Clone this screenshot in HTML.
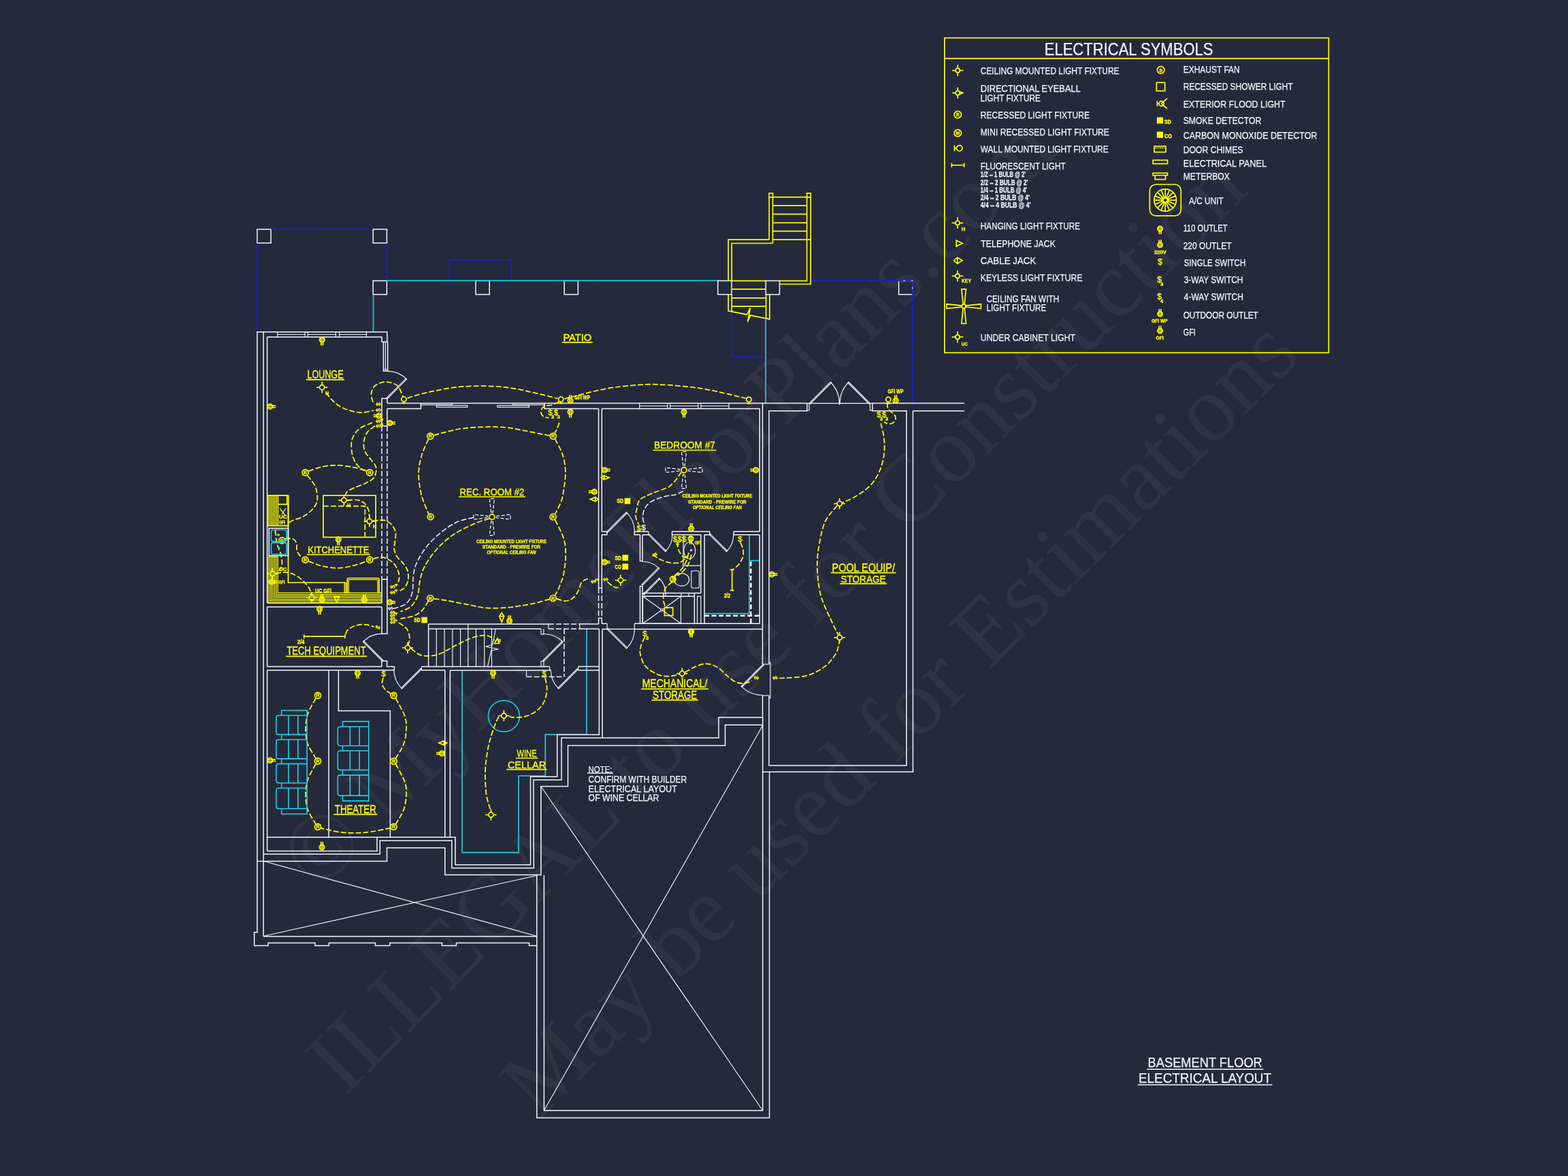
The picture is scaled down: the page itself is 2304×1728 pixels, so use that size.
<!DOCTYPE html>
<html lang="en"><head><meta charset="utf-8"><title>Basement Floor Electrical Layout</title>
<style>
html,body{margin:0;padding:0;background:#25293c;}
body{width:2304px;height:1728px;overflow:hidden;}
svg{display:block;}
text{font-family:"Liberation Sans",sans-serif;}
.w{stroke:#f4f4fc;stroke-width:1.5;fill:none;}
.wt{stroke:#f4f4fc;stroke-width:1.15;fill:none;}
.y{stroke:#ff0;stroke-width:1.7;fill:none;}
.yt{stroke:#ff0;stroke-width:1.25;fill:none;}
.yd{stroke:#ff0;stroke-width:1.75;fill:none;stroke-dasharray:8 3;}
.wd{stroke:#f4f4fc;stroke-width:1.5;fill:none;stroke-dasharray:8 3;}
.wd2{stroke:#f4f4fc;stroke-width:1.25;fill:none;stroke-dasharray:5 2.5;}
.c{stroke:#19d3e3;stroke-width:1.6;fill:none;}
.b{stroke:#1e1ed2;stroke-width:2.1;fill:none;stroke-dasharray:9.5 2;}
.ty{fill:#ff0;stroke:#ff0;stroke-width:0.35;}
.tw{fill:#f4f4fc;stroke:#f4f4fc;stroke-width:0.25;}
.wm{fill:#fff;fill-opacity:0.047;font-family:"Liberation Serif",serif;}
</style></head><body>
<svg width="2304" height="1728" viewBox="0 0 2304 1728">
<rect width="2304" height="1728" fill="#25293c"/>
<filter id="soft" filterUnits="userSpaceOnUse" x="0" y="0" width="2304" height="1728" color-interpolation-filters="sRGB"><feGaussianBlur stdDeviation="0.28"/></filter>
<g filter="url(#soft)">
<g id="wm">
<text class="wm" font-size="138" transform="translate(468 1313) rotate(-45)">© MyHomeFloorPlans.com</text>
<text class="wm" font-size="138" transform="translate(507 1612) rotate(-45)">ILLEGAL to use for Construction</text>
<text class="wm" font-size="138" transform="translate(792 1647) rotate(-45)">May be used for Estimations</text>
</g>
<text class="tw" x="1686.6" y="1568.4" font-size="20.2" textLength="168.2" lengthAdjust="spacingAndGlyphs">BASEMENT FLOOR</text><path class="w" d="M1685.1 1571.3L1856.3 1571.3"/>
<text class="tw" x="1673" y="1591.1" font-size="20" textLength="195" lengthAdjust="spacingAndGlyphs">ELECTRICAL LAYOUT</text><path class="w" d="M1671.5 1593.9L1869.5 1593.9"/>
<text class="tw" x="864.6" y="1134.6" font-size="13.4" textLength="34.8" lengthAdjust="spacingAndGlyphs">NOTE:</text><path class="w" d="M863.1 1136L900.9 1136"/>
<text class="tw" x="864.6" y="1149.9" font-size="14" textLength="144.6" lengthAdjust="spacingAndGlyphs">CONFIRM WITH BUILDER</text>
<text class="tw" x="864.6" y="1163.5" font-size="14" textLength="130.3" lengthAdjust="spacingAndGlyphs">ELECTRICAL LAYOUT</text>
<text class="tw" x="864.6" y="1177.4" font-size="14" textLength="103.8" lengthAdjust="spacingAndGlyphs">OF WINE CELLAR</text>
<g id="posts">
<rect class="w" x="377.9" y="336.9" width="20.2" height="20.2"/>
<rect class="w" x="548.2" y="336.9" width="20.2" height="20.2"/>
<rect class="w" x="548.2" y="412.5" width="20.2" height="20.2"/>
<rect class="w" x="699" y="412.5" width="20.2" height="20.2"/>
<rect class="w" x="829.2" y="412.5" width="20.2" height="20.2"/>
<rect class="w" x="1054.8" y="412.5" width="20.2" height="20.2"/>
<rect class="w" x="1125.3" y="412.5" width="20.2" height="20.2"/>
<rect class="w" x="1320.6" y="412.5" width="20.2" height="20.2"/>
</g>
<g id="blue">
<path class="b" d="M398.2 336.8L548 336.8"/>
<path class="b" d="M377.6 357.4L377.6 487.7"/>
<path class="b" d="M568.6 357.4L568.6 412.4"/>
<path class="b" d="M660.5 412.4L660.5 382L751.1 382L751.1 412.4"/>
<path class="b" d="M1191.6 412.4L1340.8 412.4L1340.8 592.6"/>
<path class="b" d="M1075 459L1075 524.6L1125 524.6"/>
</g>
<g id="cyan">
<path class="c" d="M568.6 412.4L1054.6 412.4"/>
<path class="c" d="M548.5 432.8L548.5 487.7"/>
<path class="c" d="M1125 469L1125 592.6"/>
<path class="c" d="M679 984.9L679 1252.6L762 1252.6L762 1140L801.3 1140L801.3 1079.3L862 1079.3L862 924.2"/>
<circle class="c" cx="740.4" cy="1052.2" r="23"/>
<path class="c" d="M1035.1 901.6L1101 901.6L1101 785.8"/>
<path class="c" d="M1101 823.7L1116 823.7"/>
</g>
<g id="walls">
<path class="w" d="M568.9 502.4L568.9 487.7L377.9 487.7L377.9 1370L373.6 1370L373.6 1389.5L394 1389.6L394 1385.4L463 1385.4L463 1389.6L483.4 1389.6L483.4 1385.4L551.5 1385.4L551.5 1389.6L572.8 1389.6L572.8 1385.4L649.5 1385.4L649.5 1389.6L670.5 1389.6L670.5 1385.4L777.5 1385.4L777.5 1389.6L789.1 1389.6"/>
<path class="w" d="M387.1 487.7L387.1 1376"/>
<path class="w" d="M561 502.4L561 495.3L392.6 495.3L392.6 886.1"/>
<path class="w" d="M392.6 891.7L392.6 979.5"/>
<path class="w" d="M392.6 984.7L392.6 1250.5"/>
<path class="wt" d="M407.7 487.7L407.7 495.3"/>
<path class="wt" d="M448.3 487.7L448.3 495.3"/>
<path class="wt" d="M407.7 491.5L448.3 491.5"/>
<path class="wt" d="M452.3 487.7L452.3 495.3"/>
<path class="wt" d="M493.4 487.7L493.4 495.3"/>
<path class="wt" d="M452.3 491.5L493.4 491.5"/>
<path class="wt" d="M498.5 487.7L498.5 495.3"/>
<path class="wt" d="M538.5 487.7L538.5 495.3"/>
<path class="wt" d="M498.5 491.5L538.5 491.5"/>
<path class="w" d="M561 502.4L569.7 502.4"/>
<path class="w" d="M563.4 502.4L563.4 545.2L569.7 545.2L569.7 502.4"/>
<path class="wt" d="M566.4 502.4L566.4 543"/>
<path class="wt" d="M563.4 543L569.7 543"/>
<path class="wt" d="M568.9 586L597.6 557.3L596.5 556.2L567.8 584.9Z"/><path class="wt" d="M597.6 557.3A40.6 40.6 0 0 0 568.9 545.4"/>
<path class="w" d="M568.9 592.6L568.9 585.5L561 585.5L561 625.9L568.9 625.9L568.9 600.5"/>
<path class="wd" d="M561 625.9L561 851.3"/>
<path class="wd" d="M568.9 625.9L568.9 851.3"/>
<path class="w" d="M568.9 592.6L1185.9 592.6"/>
<path class="w" d="M568.9 600.5L618.4 600.5L618.4 592.6"/>
<path class="w" d="M800 592.6L800 600.5L879.6 600.5"/>
<rect class="wt" x="618.4" y="592.6" width="45.8" height="2.3"/>
<rect class="wt" x="641.4" y="595.7" width="45.4" height="2.6"/>
<rect class="wt" x="730.9" y="595.7" width="46.6" height="2.6"/>
<rect class="wt" x="753.8" y="592.6" width="46.2" height="2.3"/>
<path class="w" d="M884.3 600.5L1116.2 600.5"/>
<path class="wt" d="M939.7 592.6L939.7 600.5"/>
<path class="wt" d="M980.9 592.6L980.9 600.5"/>
<path class="wt" d="M939.7 596.5L980.9 596.5"/>
<path class="wt" d="M984.8 592.6L984.8 600.5"/>
<path class="wt" d="M1025.9 592.6L1025.9 600.5"/>
<path class="wt" d="M984.8 596.5L1025.9 596.5"/>
<path class="wt" d="M1029.9 592.6L1029.9 600.5"/>
<path class="wt" d="M1071 592.6L1071 600.5"/>
<path class="wt" d="M1029.9 596.5L1071 596.5"/>
<path class="w" d="M879.6 600.5L879.6 864"/>
<path class="w" d="M884.3 600.5L884.3 781.1"/>
<path class="w" d="M884.3 785.8L884.3 864"/>
<path class="w" d="M879.6 864L884.3 864"/>
<path class="wd" d="M879.6 864L879.6 908.3"/>
<path class="wd" d="M884.3 864L884.3 908.3"/>
<path class="w" d="M879.6 917L879.6 908.3L884.3 908.3L884.3 916.3"/>
<path class="w" d="M1116.2 600.5L1116.2 781.1"/>
<path class="w" d="M1116.2 785.8L1116.2 916.3"/>
<path class="w" d="M1120.5 592.6L1120.5 976"/>
<path class="w" d="M1120.5 1022L1120.5 1054.2"/>
<path class="w" d="M1185.9 592.6L1185.9 603.7L1130 603.7L1130 976"/>
<path class="w" d="M1130 1022L1130 1124.8L1332 1124.8L1332 603.7L1281.9 603.7L1281.9 592.6L1417 592.6"/>
<path class="w" d="M1341.5 603.7L1417 603.7"/>
<path class="w" d="M1341.5 603.7L1341.5 1134.3L1120.9 1134.3"/>
<path class="wt" d="M1185.9 592.6L1189 592.6L1189 602.9L1185.9 602.9"/>
<path class="wt" d="M1281.9 592.6L1278.4 592.6L1278.4 602.9L1281.9 602.9"/>
<path class="wt" d="M1189 592.6L1278.4 592.6"/>
<path class="wt" d="M1189 592.6L1220.3 561.3L1221.5 562.4L1190.1 593.7Z"/><path class="wt" d="M1220.3 561.3A44.3 44.3 0 0 1 1233.3 592.6"/>
<path class="wt" d="M1278.4 592.6L1247.1 561.3L1245.9 562.4L1277.3 593.7Z"/><path class="wt" d="M1247.1 561.3A44.3 44.3 0 0 0 1234.1 592.6"/>
<path class="wt" d="M1233.5 588L1233.5 595"/>
<path class="wt" d="M1120.5 976L1130 976"/>
<path class="wt" d="M1120.5 1022L1130 1022"/>
<path class="wt" d="M1130.6 973.6L1131.9 973.6L1131.9 1025.8L1130.6 1025.8"/>
<path class="wt" d="M1121 976.5L1089.2 1008.3L1090.3 1009.5L1122.1 977.6Z"/><path class="wt" d="M1089.2 1008.3A45 45 0 0 0 1121 1021.5"/>
<path class="w" d="M629.6 916.9L806 916.9"/>
<path class="wd" d="M806 916.9L851.9 916.9"/>
<path class="wd" d="M806 924L851.9 924"/>
<path class="w" d="M851.9 916.9L879.6 916.9"/>
<path class="wt" d="M806 916.9L806 924"/>
<path class="wt" d="M851.9 916.9L851.9 924"/>
<path class="w" d="M851.9 924L880.4 924"/>
<path class="w" d="M629.6 916.9L629.6 979.4"/>
<path class="w" d="M629.6 924L795 924"/>
<path class="wt" d="M641.3 924L641.3 979.4"/>
<path class="wt" d="M653.1 924L653.1 979.4"/>
<path class="wt" d="M664.9 924L664.9 979.4"/>
<path class="wt" d="M676.6 924L676.6 979.4"/>
<path class="wt" d="M687.8 924L687.8 979.4"/>
<path class="wt" d="M699.5 924L699.5 979.4"/>
<path class="wt" d="M711.7 924L711.7 979.4"/>
<path class="wt" d="M722.5 924L722.5 979.4"/>
<path class="wt" d="M687.8 916.9L687.8 924"/>
<path class="wt" d="M728.5 924L723.5 947.5L713.5 950L732.5 954L721.7 956L716.6 979.4"/>
<path class="wt" d="M795 924L795 931.9L798.9 931.9L798.9 924"/>
<path class="wt" d="M795 979.4L795 971.5L798.9 971.5L798.9 979.4"/>
<path class="wt" d="M798.9 971.5L827.2 943.2L826.1 942.1L797.8 970.4Z"/><path class="wt" d="M827.2 943.2A40 40 0 0 0 798.9 931.5"/>
<path class="wd" d="M829 924L829 994.4"/>
<path class="wd" d="M773.6 994.4L829 994.4"/>
<path class="wt" d="M773.6 984.9L773.6 994.4"/>
<path class="w" d="M619.3 979.4L807.6 979.4"/>
<path class="w" d="M661.3 984.9L808.4 984.9"/>
<path class="w" d="M849.6 979.4L880.4 979.4"/>
<path class="w" d="M849.6 984.9L880.4 984.9"/>
<path class="wt" d="M849.6 979.4L849.6 984.9"/>
<path class="wt" d="M807.6 979.4L807.6 984.9"/>
<path class="wt" d="M849.6 983.4L821 1012L819.8 1010.9L848.5 982.3Z"/><path class="wt" d="M821 1012A40.5 40.5 0 0 1 809.1 983.4"/>
<path class="wt" d="M619.3 983.4L590.7 1012L589.5 1010.9L618.2 982.3Z"/><path class="wt" d="M590.7 1012A40.5 40.5 0 0 1 578.8 983.4"/>
<path class="wt" d="M619.3 979.4L619.3 984.9"/>
<path class="wt" d="M562 971.6L533.4 943L534.5 941.8L563.1 970.5Z"/><path class="wt" d="M533.4 943A40.5 40.5 0 0 1 562 931.1"/>
<path class="w" d="M392.6 886.1L561 886.1"/>
<path class="w" d="M392.6 891.7L561 891.7"/>
<path class="w" d="M561 886.1L561 851.3L568.9 851.3L568.9 931.2L561 931.2L561 891.7"/>
<path class="w" d="M392.6 979.4L560.9 979.4"/>
<path class="w" d="M560.9 979.4L560.9 971.2L568.7 971.2L568.7 979.4L579.3 979.4L579.3 984.6"/>
<path class="w" d="M619 984.7L653.8 984.7"/>
<path class="w" d="M392.6 984.7L579.3 984.7"/>
<path class="w" d="M483.1 984.7L483.1 1230.3"/>
<path class="w" d="M497.4 984.7L497.4 1044.4L573.4 1044.4L573.4 1230.3"/>
<path class="w" d="M392.6 1230.3L661.4 1230.3"/>
<path class="w" d="M653.8 984.9L653.8 1230.3"/>
<path class="w" d="M661.4 984.9L661.4 1230.3L669 1230.3L669 1270.8L779.5 1270.8L779.5 1141.3L818.7 1141.3L818.7 1079.6L880.4 1079.6L880.4 924"/>
<path class="w" d="M885.1 924.5L885.1 1084.3L825 1084.3L825 1146L783.9 1146L784.4 1275.6L663.9 1275.6L663.9 1235.3L558.3 1235.3L558.3 1254.9L387.1 1254.9"/>
<path class="w" d="M392.6 1250.5L554 1250.5L554 1230.3"/>
<path class="w" d="M1120.9 1065.3L1065.5 1065.3L1065.5 1095.4L834.5 1095.4L834.5 1155.5L794.9 1155.5L794.9 1285.5L653.8 1285.5L653.8 1245.8L568.5 1245.8L568.5 1265.4L377.9 1265.4"/>
<path class="w" d="M885.1 1084.3L1056 1084.3L1056 1054.2L1120.9 1054.2"/>
<path class="w" d="M387.1 1376L788.8 1376"/>
<path class="wt" d="M387.1 1265.3L788.8 1375.5"/>
<path class="wt" d="M387.1 1375.5L788.8 1286.5"/>
<path class="w" d="M788.8 1285.7L788.8 1642.4L1130.6 1642.4L1130.6 1134.3"/>
<path class="w" d="M799.4 1285.7L799.4 1631.8L1120.7 1631.8L1120.7 1054.2"/>
<path class="wt" d="M794.9 1155.5L1120.7 1631.8"/>
<path class="wt" d="M1120.7 1066L799.4 1631.8"/>
<path class="w" d="M884.3 781.1L891.7 781.1"/>
<path class="w" d="M884.3 785.8L891.7 785.8L891.7 781.1"/>
<path class="wt" d="M891.7 781.3L920.4 752.6L921.5 753.7L892.8 782.4Z"/><path class="wt" d="M920.4 752.6A40.6 40.6 0 0 1 932.3 781.3"/>
<path class="w" d="M932.3 781.1L952.9 781.1"/>
<path class="w" d="M932.3 781.1L932.3 785.8L940.5 785.8"/>
<path class="w" d="M944 785.8L952.9 785.8"/>
<path class="wt" d="M952.9 781.1L952.9 785.8"/>
<path class="wt" d="M952.9 785.8L977.6 810.5L978.8 809.4L954 784.7Z"/><path class="wt" d="M977.6 810.5A35 35 0 0 0 987.9 785.8"/>
<path class="w" d="M987.5 781.1L1042.8 781.1"/>
<path class="w" d="M987.5 781.1L987.5 785.8L1029.8 785.8"/>
<path class="w" d="M1035.1 785.8L1042.8 785.8L1042.8 781.1"/>
<path class="wt" d="M1042.8 785.8L1067.5 810.5L1068.7 809.4L1043.9 784.7Z"/><path class="wt" d="M1067.5 810.5A35 35 0 0 0 1077.8 785.8"/>
<path class="w" d="M1078 781.1L1116.2 781.1"/>
<path class="w" d="M1078 781.1L1078 785.8L1116.2 785.8"/>
<path class="w" d="M940.5 785.8L940.5 824.6L944 824.6L944 785.8"/>
<path class="w" d="M940.5 916.3L940.5 861.6L944 861.6L944 916.3"/>
<path class="wt" d="M944 860L968.7 835.3L967.6 834.1L942.9 858.9Z"/><path class="wt" d="M968.7 835.3A35 35 0 0 0 944 825"/>
<path class="wt" d="M945.2 872.8L968.5 849.5L969.7 850.6L946.3 873.9Z"/><path class="wt" d="M968.5 849.5A33 33 0 0 1 978.2 872.8"/>
<path class="w" d="M1029.8 785.8L1029.8 871.6"/>
<path class="w" d="M1035.1 785.8L1035.1 916.3"/>
<path class="wt" d="M1004 785.8L1004 831.1L1029.8 831.1"/>
<ellipse class="wt" cx="1013.2" cy="808.8" rx="8.5" ry="12.3"/>
<circle class="wt" cx="1015.5" cy="808.5" r="1.2"/>
<ellipse class="wt" cx="1001.6" cy="851.7" rx="11" ry="9.4"/>
<rect class="wt" x="1015.7" y="838.7" width="11.8" height="25.3" rx="2.5"/>
<path class="w" d="M944 871.6L1029.8 871.6"/>
<path class="w" d="M944 876.3L1020.4 876.3"/>
<rect class="wt" x="944.6" y="876.3" width="55.9" height="40"/>
<path class="wt" d="M944.6 876.3L1000.5 916.3"/>
<path class="wt" d="M944.6 916.3L1000.5 876.3"/>
<circle class="wt" cx="972.3" cy="896.3" r="1.6" style="fill:#25293c"/>
<path class="w" d="M1020.4 871.6L1020.4 916.3"/>
<rect class="wt" x="1024.6" y="876.3" width="5.2" height="40"/>
<path class="wt" d="M978 871.6L978 876.3"/>
<path class="wt" d="M1001 871.6L1001 876.3"/>
<path class="wt" d="M1012 871.6L1012 876.3"/>
<path class="w" d="M1103.3 825V916.3" style="stroke-width:2.6;stroke-dasharray:7 3.5"/>
<path class="w" d="M1035.1 904.8H1116" style="stroke-width:2.6;stroke-dasharray:7 3.5"/>
<path class="w" d="M884.3 916.3L892 916.3"/>
<path class="w" d="M932.3 916.3L1116.2 916.3"/>
<path class="w" d="M885.1 924.5L892 924.5"/>
<path class="w" d="M932.3 924.5L1120.5 924.5"/>
<path class="wt" d="M892 916.3L892 924.5"/>
<path class="wt" d="M932.3 916.3L932.3 924.5"/>
<path class="wt" d="M892 924.3L920.6 952.9L921.7 951.7L893.1 923.2Z"/><path class="wt" d="M920.6 952.9A40.4 40.4 0 0 0 932.4 924.3"/>
<path class="wt" d="M892 924.3L932.3 924.3"/>
</g>
<g id="ystairs">
<rect class="y" x="1130.2" y="283.9" width="5.3" height="5.9"/>
<rect class="y" x="1185.6" y="283.9" width="5.6" height="5.9"/>
<path class="y" d="M1130.2 289.8L1130.2 352.2"/>
<path class="y" d="M1135.5 289.8L1135.5 357.5"/>
<path class="y" d="M1191.2 289.8L1191.2 417.5L1146.1 417.5"/>
<path class="y" d="M1185.6 289.8L1185.6 412.6L1146.1 412.6"/>
<path class="y" d="M1135.5 289.7L1185.6 289.7"/>
<path class="y" d="M1135.5 302.1L1185.6 302.1"/>
<path class="y" d="M1135.5 314.7L1185.6 314.7"/>
<path class="y" d="M1135.5 327.3L1185.6 327.3"/>
<path class="y" d="M1135.5 339.7L1185.6 339.7"/>
<path class="y" d="M1135.5 352.2L1191.2 352.2"/>
<path class="y" d="M1130.2 352.2L1070.2 352.2L1070.2 412.6"/>
<path class="y" d="M1135.5 357.5L1075.2 357.5L1075.2 412.6"/>
<path class="y" d="M1075.2 412.6L1125.6 412.6"/>
<path class="y" d="M1070.2 432.6L1070.2 457L1075.2 457.8L1075.2 432.6"/>
<path class="y" d="M1125.6 432.6L1125.6 467.8L1130.9 469L1130.9 432.6"/>
<path class="y" d="M1075.2 424.9L1125.6 424.9"/>
<path class="y" d="M1075.2 437.8L1125.6 437.8"/>
<path class="y" d="M1075.2 450.1L1125.6 450.1"/>
<path class="y" d="M1075.2 457.8L1097.5 462.2L1102.5 452.6L1098.5 472.8L1102.5 463.3L1130.9 469"/>
</g>
<g id="labels">
<text class="ty" x="451.5" y="556" font-size="15.6" textLength="53" lengthAdjust="spacingAndGlyphs">LOUNGE</text><path class="y" d="M450 557.9L506 557.9"/>
<text class="ty" x="827.4" y="500.9" font-size="15.2" textLength="41.9" lengthAdjust="spacingAndGlyphs">PATIO</text><path class="y" d="M825.9 503.2L870.8 503.2"/>
<text class="ty" x="961" y="659.3" font-size="15.5" textLength="90" lengthAdjust="spacingAndGlyphs">BEDROOM #7</text><path class="y" d="M959.5 661.5L1052.5 661.5"/>
<text class="ty" x="675.5" y="727.8" font-size="15.5" textLength="95" lengthAdjust="spacingAndGlyphs">REC. ROOM #2</text><path class="y" d="M674 730L772 730"/>
<text class="ty" x="452.3" y="812.9" font-size="15.2" textLength="90" lengthAdjust="spacingAndGlyphs">KITCHENETTE</text><path class="y" d="M450.8 815L543.8 815"/>
<text class="ty" x="421.4" y="961.8" font-size="15.6" textLength="116.3" lengthAdjust="spacingAndGlyphs">TECH EQUIPMENT</text><path class="y" d="M419.9 964.3L539.2 964.3"/>
<text class="ty" x="491.8" y="1194.5" font-size="15.8" textLength="61" lengthAdjust="spacingAndGlyphs">THEATER</text><path class="y" d="M490.3 1196.6L554.3 1196.6"/>
<text class="ty" x="759.4" y="1112.3" font-size="15.2" textLength="29.2" lengthAdjust="spacingAndGlyphs">WINE</text><path class="y" d="M757.9 1114L790.1 1114"/>
<text class="ty" x="745.9" y="1128.5" font-size="15.5" textLength="56.2" lengthAdjust="spacingAndGlyphs">CELLAR</text><path class="y" d="M744.4 1130.6L803.6 1130.6"/>
<text class="ty" x="943.7" y="1010" font-size="15.8" textLength="95.6" lengthAdjust="spacingAndGlyphs">MECHANICAL/</text><path class="y" d="M942.2 1012.3L1040.8 1012.3"/>
<text class="ty" x="959" y="1026.5" font-size="15.8" textLength="65.3" lengthAdjust="spacingAndGlyphs">STORAGE</text><path class="y" d="M957.5 1028.6L1025.8 1028.6"/>
<text class="ty" x="1222.5" y="839.8" font-size="15.8" textLength="92.5" lengthAdjust="spacingAndGlyphs">POOL EQUIP/</text><path class="y" d="M1221 841.7L1316.5 841.7"/>
<text class="ty" x="1235.5" y="855.6" font-size="15.4" textLength="66" lengthAdjust="spacingAndGlyphs">STORAGE</text><path class="y" d="M1234 857.7L1303 857.7"/>
</g>
<g id="wires">
<path class="yd" d="M479 577C480.8 579.2 485.8 586.2 490 590C494.2 593.8 498.1 597 504.5 599.7C510.9 602.4 520.8 605.6 528.2 606.1C535.6 606.6 545.5 603.5 549 603"/>
<path class="yd" d="M548 591C547.6 588.8 544.9 581.8 545.6 577.6C546.3 573.4 548.3 568.8 552 566C555.7 563.2 562.5 560.9 567.8 561C573.1 561.1 579.8 563.5 583.6 566.5C587.4 569.5 589.3 576.5 590.7 579.2C592.1 582 591.8 582.4 592 583"/>
<path class="yd" d="M598.5 585C601.3 584.1 608.9 581.5 615.3 579.8C621.7 578.1 629.2 576.3 637 574.7C644.8 573.1 654.5 571.1 662.3 570C670.1 568.9 676.2 568.3 684 567.8C691.8 567.3 700.8 567 709.3 567.1C717.8 567.2 726.8 567.5 734.7 568.2C742.7 568.9 749.8 570 757 571.2C764.2 572.4 771.2 574.1 778 575.6C784.8 577.1 791.1 578.6 798 580.2C804.9 581.9 815.9 584.6 819.5 585.5"/>
<path class="yd" d="M829 586C839.1 583.5 871.9 574.7 889.9 571.3C907.9 567.9 924.1 566.8 937.3 565.7C950.5 564.7 955.8 564.5 969 565C982.2 565.5 1003 567.3 1016.5 568.9C1030 570.5 1036.6 571.7 1050 574.5C1063.4 577.3 1089.2 583.7 1097 585.5"/>
<path class="yd" d="M547 621C543.9 622.5 533.1 626 528.2 629.8C523.4 633.6 519.9 639 517.9 644C515.9 649 516 654.6 516.4 659.9C516.8 665.2 518.3 671.2 520.3 675.7C522.3 680.2 525 684 528.2 686.8C531.4 689.6 537.6 691.5 539.5 692.5"/>
<path class="yd" d="M551 626C549.2 627.4 542.8 630.8 540.1 634.6C537.4 638.4 535.3 644.1 534.6 648.8C533.9 653.5 534.5 658.8 536.1 663C537.7 667.2 541.5 670.7 544 674.1C546.5 677.5 549.7 680.7 551.2 683.6C552.7 686.5 553.2 688.3 552.8 691.5C552.4 694.7 551.6 699.4 548.8 702.6C546 705.8 540.9 708.1 536.1 710.5C531.4 712.9 524.7 714.7 520.3 716.8C515.9 718.9 512.2 720.6 509.8 723C507.4 725.4 506.6 729.7 506 731"/>
<path class="yd" d="M453.2 692.3C456.5 691.2 465.8 687.5 472.8 686C479.8 684.5 487.1 683.5 495 683.6C502.9 683.7 513 685.3 520.3 686.8C527.6 688.2 535.6 691.4 538.7 692.3"/>
<path class="yd" d="M451.5 698.5C453.2 700.8 459.4 707.7 461.8 712.1C464.2 716.5 465.3 720.7 465.9 725C466.5 729.3 466.8 733.9 465.5 738C464.2 742.1 461.5 745.9 458 749.5C454.5 753.1 449.1 757.1 444.7 759.5C440.3 761.9 435.1 762.6 431.7 764C428.3 765.4 425.7 767.3 424.5 768"/>
<path class="yd" d="M637.3 639.6C640.3 638.8 648.5 636.4 655.1 634.8C661.7 633.2 669.6 631.1 676.8 630C684 628.9 691.3 628.4 698.5 627.9C705.7 627.4 713 627.2 720.2 627.2C727.5 627.2 734.8 627.3 742 628C749.2 628.7 754.5 629.8 763.3 631.4C772.1 633 787.4 636.2 794.9 637.7C802.4 639.2 805.8 639.7 808 640.1"/>
<path class="yd" d="M815.5 645C817.4 648.8 824.1 660 826.6 667.8C829.1 675.5 830.4 683.6 830.8 691.5C831.2 699.4 830 707.9 829 715.3C828 722.7 827.2 729.2 825 735.8C822.8 742.4 817.3 751.8 815.8 755"/>
<path class="yd" d="M815.8 764.2C817.9 768.7 825.6 782.7 828.2 791.2C830.8 799.7 831.3 806.3 831.3 815C831.3 823.7 829.8 835.5 828.2 843.4C826.6 851.3 823.9 857.2 821.8 862.4C819.7 867.6 816.5 872.7 815.5 874.8"/>
<path class="yd" d="M808 880.4C803.2 881.6 789.2 885.7 779.1 887.7C769 889.7 758 891.5 747.5 892.5C737 893.5 726 894.1 715.8 893.4C705.6 892.7 696.7 890.1 686.5 888.2C676.3 886.3 663 883.6 654.8 882.2C646.5 880.8 640 880.2 637 879.8"/>
<path class="yd" d="M629.5 645.3C627.9 649 622.4 660.1 620 667.8C617.6 675.5 615.8 683.6 615.3 691.5C614.8 699.4 615.8 708 616.8 715.3C617.8 722.5 619.4 728.4 621.6 735C623.8 741.6 628.4 751.5 629.8 754.8"/>
<path class="yd" d="M629.5 883C627.9 885.4 623.7 893.5 620 897.2C616.3 900.9 612.6 903.1 607.3 905.1C602 907.1 591.5 908.4 588.4 909.1"/>
<path class="yd" d="M821.8 621.1C821.3 622.5 819.8 627.2 818.7 629.8C817.6 632.4 815.6 635.5 815 636.6"/>
<path class="yd" d="M821.5 590.3C819.7 591.1 814.4 593.9 810.8 595C807.2 596.1 802.4 595.2 799.7 596.8C797.1 598.4 795.2 602 794.9 604.5C794.6 607 796.2 610 798.1 611.6C800 613.2 805.1 613.6 806.5 614"/>
<path class="yd" d="M719 762C714.9 763.4 703.8 766.3 694.4 770.6C685 774.9 671.9 781.4 662.7 788C653.5 794.6 645.6 802.6 639 810.2C632.4 817.9 626.9 826.5 623.2 833.9C619.5 841.3 618.4 847.6 616.8 854.5C615.2 861.4 615.8 869 613.7 875.1C611.6 881.2 608.4 887 604.2 890.9C600 894.8 591 897.5 588.4 898.8"/>
<path class="wd" d="M696 760.3C691.8 761.5 678.8 763.7 670.6 767.5C662.4 771.3 654.3 777.2 646.9 783.3C639.5 789.4 632.1 796.5 626.3 803.9C620.5 811.3 615.3 820.5 612.1 827.6C608.9 834.7 608.3 839.5 607.3 846.6C606.2 853.7 607.4 863.7 605.8 870.3C604.2 876.9 601.8 882.3 597.8 886.1C593.8 889.9 585.5 892 582 893.3C578.5 894.6 577.8 893.9 577 894"/>
<path class="yd" d="M547.5 765.5C550.2 765.3 559.4 763.6 564 764.4C568.6 765.2 572 767.3 574.9 770.3C577.8 773.3 580.5 777.9 581.4 782.3C582.3 786.6 580.7 792.2 580.3 796.4C579.9 800.5 578.7 803.6 579.2 807.2C579.7 810.8 581.1 814.5 583.5 818.1C585.9 821.7 590.7 825.3 593.3 828.9C595.9 832.5 598.3 835.6 599.3 839.8C600.3 844 600.3 849.8 599.3 853.9C598.3 858 595.8 862.2 593.3 864.7C590.8 867.2 586 868.4 584.6 869.1"/>
<path class="yd" d="M548.5 821C550.5 820.6 556.9 818.4 560.8 818.6C564.6 818.8 568.4 820.5 571.6 822.4C574.9 824.3 577.9 826.9 580.3 830C582.6 833.1 584.7 837.3 585.7 840.9C586.7 844.5 586.8 848.5 586.3 851.7C585.8 855 583.1 859 582.5 860.4"/>
<path class="yd" d="M453.5 824.8C456.7 825.9 465.6 830 472.8 831.6C480 833.2 488.7 834.8 496.6 834.7C504.5 834.6 513.3 832.4 520.3 830.8C527.3 829.1 535.5 825.8 538.5 824.8"/>
<path class="yd" d="M419 791.5C420.9 791.6 427.8 790.8 430.6 792C433.4 793.2 435.1 796 436 798.5C436.9 801 435.4 804.5 436 807.2C436.6 809.9 437.9 812.7 439.3 814.8C440.7 816.9 443.7 818.8 444.6 819.6"/>
<path class="yd" d="M510 735C512.3 734.9 519.8 733.9 523.9 734.5C528 735.1 531.8 736.5 534.7 738.9C537.6 741.2 539.8 744.9 541.2 748.6C542.6 752.3 542.6 758.9 542.9 761"/>
<path class="yd" d="M404.5 779C404.7 781 405.1 787.2 405.6 791C406.2 794.8 406.7 798.2 407.8 801.8C408.9 805.4 411 809 412.1 812.6C413.2 816.2 414 820.2 414.3 823.5C414.6 826.8 414.5 829.7 413.8 832.2C413.1 834.7 410.6 837.5 410 838.5"/>
<path class="yd" d="M405 842.5C407.6 842.2 416 840.4 420.8 840.9C425.6 841.4 429.6 843 433.8 845.2C438 847.4 442.4 850.6 445.8 853.9C449.2 857.1 452.4 861.4 454.4 864.7C456.4 868 457.1 872.3 457.7 873.8"/>
<path class="yd" d="M507.7 932C508.5 930.7 509.5 926.3 512.4 924.1C515.3 921.9 520.9 919.7 525.1 918.6C529.3 917.5 533.6 917.4 537.7 917.8C541.9 918.2 548 920.5 550 921"/>
<path class="yd" d="M586 915C588 916.5 595.2 920.5 597.8 924.1C600.4 927.7 601.4 932.9 601.8 936.8C602.2 940.7 600.3 945.7 600 947.5"/>
<path class="yd" d="M604 953C606.1 954.5 612.3 960.3 616.8 962.1C621.3 963.9 626.1 964 631.1 963.7C636.1 963.4 640.3 963.1 646.9 960.5C653.5 957.9 662.7 951.8 670.6 947.8C678.5 943.8 687.8 939.2 694.4 936.8C701 934.4 705.9 933.8 710.2 933.6C714.5 933.4 717.2 934.3 720 935.5C722.8 936.7 725.8 940.1 727 941"/>
<path class="yd" d="M1001.5 693.5C998.7 696.9 992 708.5 984.8 713.7C977.5 719 965.4 721.6 958 725C950.6 728.4 944.2 730.6 940.5 734.2C936.8 737.9 936.8 742.7 935.8 746.9C934.8 751.1 933.8 755.6 934.2 759.6C934.7 763.6 937.8 768.8 938.5 770.6"/>
<path class="wd" d="M1003.8 721.6C1001.8 722.5 996.5 725.7 992 727C987.5 728.3 982.9 727.8 976.9 729.5C970.9 731.2 961.3 734.2 956.3 737.4C951.3 740.6 948.8 744.5 946.8 748.5C944.8 752.5 944.5 757.4 944.5 761.1C944.5 764.8 946.4 769 946.8 770.6"/>
<path class="yd" d="M892.5 855C893.6 856 897.2 859.4 899.4 860.8C901.6 862.2 903.9 863.5 905.7 863.6C907.6 863.7 909.7 861.9 910.5 861.5"/>
<path class="yd" d="M817.5 879.8C819.8 880.3 827.1 883.3 831.3 883C835.4 882.7 839.2 880.8 842.4 878.2C845.6 875.6 848.3 870.9 850.3 867.2C852.3 863.5 852.4 858.8 854.3 856.1C856.1 853.5 859.3 852.1 861.4 851.3C863.5 850.5 866.1 851.5 867 851.5"/>
<path class="yd" d="M959 815C960.8 816.2 965.7 820 970 822C974.3 824 980 826.3 985 827C990 827.7 995.8 827.7 1000 826C1004.2 824.3 1008.3 818.5 1010 817"/>
<path class="yd" d="M995 796C995.3 798 995.7 804.5 997 808C998.3 811.5 1000.8 815 1003 817C1005.2 819 1008.8 819.5 1010 820"/>
<path class="yd" d="M1012 812C1011.3 814.3 1010 821.7 1008 826C1006 830.3 1002.8 834.7 1000 838C997.2 841.3 992.5 844.7 991 846"/>
<path class="yd" d="M1016 815C1015 817.8 1013.3 826.8 1010 832C1006.7 837.2 998.3 843.7 996 846"/>
<path class="yd" d="M988 855C986.3 856.5 980.2 860.2 978 864C975.8 867.8 974.7 873.7 974.5 878C974.3 882.3 975.9 887.3 977 890C978.1 892.7 980.3 893.3 981 894"/>
<path class="yd" d="M1088 797C1088.7 798.8 1091.5 804.2 1092 808C1092.5 811.8 1092.2 816.3 1091 820C1089.8 823.7 1087.3 827.2 1085 830C1082.7 832.8 1078.3 835.4 1077 836.5"/>
<path class="yd" d="M947.5 936C946.5 938.3 942.6 945.7 941.5 950C940.4 954.3 939.8 957.1 941 962C942.2 966.9 944.3 974.5 948.8 979.4C953.3 984.3 961.8 989.2 967.8 991.6C973.8 994 980 993.6 985 993.5C990 993.4 995.8 991.4 998 991"/>
<path class="yd" d="M1006.5 988C1009.1 986.6 1016.8 981.5 1022.1 979.4C1027.4 977.3 1032.9 975.1 1038.3 975.3C1043.7 975.5 1049.6 977.8 1054.6 980.7C1059.6 983.6 1063.7 989.3 1068.2 992.9C1072.7 996.5 1077.2 1000.6 1081.7 1002.4C1086.2 1004.2 1091.4 1004.2 1095.3 1003.8C1099.2 1003.4 1103.4 1000.6 1105 1000"/>
<path class="yd" d="M1145 996.5C1151.6 995.9 1173.6 995.8 1184.8 992.9C1196 990 1204.7 984.8 1211.9 979.4C1219.1 974 1224.7 966.3 1228.2 960.4C1231.7 954.5 1232.2 947.3 1233.1 944.1C1234 940.9 1233.4 941.5 1233.5 941"/>
<path class="yd" d="M1230 743C1227 747.1 1216.5 756.9 1211.9 767.8C1207.3 778.7 1204.2 796.3 1202.4 808.5C1200.6 820.7 1200.4 829.7 1201.1 841C1201.8 852.3 1203.3 865 1206.5 876.3C1209.7 887.6 1215.9 899.5 1220.1 908.9C1224.3 918.3 1229.6 928.6 1231.5 932.5"/>
<path class="yd" d="M1294.2 621.9C1295 625.6 1298.2 636.4 1299 644C1299.8 651.6 1300 659.9 1299 667.8C1298 675.7 1295.9 684.1 1292.7 691.5C1289.5 698.9 1285.8 705.9 1280 712.1C1274.2 718.4 1265 724.6 1258 729C1251 733.4 1241.3 736.9 1238 738.5"/>
<path class="yd" d="M1304.5 591.5C1304.4 592.6 1303.4 595.9 1304 598C1304.6 600.1 1306.3 602.2 1308 604C1309.7 605.8 1312.7 607 1314 609C1315.3 611 1316.5 613.8 1316 616C1315.5 618.2 1313 620.9 1311 622C1309 623.1 1306 622.8 1304 622.5C1302 622.2 1299.8 620.4 1299 620"/>
<path class="yd" d="M563 996C562.8 997.5 561 1001.9 561.5 1004.8C562 1007.7 564 1011 566.2 1013.5C568.4 1016 573.1 1018.5 574.5 1019.5"/>
<path class="yd" d="M581.5 1026C583.7 1030.4 592.1 1044.8 594.7 1052.3C597.3 1059.8 597.3 1064.4 597 1071.3C596.7 1078.2 595.7 1086.2 593.1 1093.4C590.5 1100.6 583.4 1110.8 581.5 1114.3"/>
<path class="yd" d="M464 1026C462.1 1029.8 454.8 1041.5 452.3 1049.1C449.8 1056.6 449.1 1063.9 449.1 1071.3C449.1 1078.7 449.8 1086.2 452.3 1093.4C454.8 1100.6 462.1 1110.8 464 1114.3"/>
<path class="yd" d="M581.5 1122.5C583.7 1126.9 592.1 1141.3 594.7 1148.8C597.3 1156.4 597.3 1161 597 1167.8C596.7 1174.7 595.7 1182.7 593.1 1189.9C590.5 1197.1 583.4 1207.3 581.5 1210.8"/>
<path class="yd" d="M464 1122.5C462.1 1126.3 454.8 1138 452.3 1145.6C449.8 1153.1 449.1 1160.4 449.1 1167.8C449.1 1175.2 449.8 1182.7 452.3 1189.9C454.8 1197.1 462.1 1207.3 464 1210.8"/>
<path class="yd" d="M574 1216.6C569 1217.6 553 1221.2 544 1222.4C535 1223.6 528.2 1224 520.3 1224C512.4 1224 504.7 1223.6 496.6 1222.4C488.5 1221.2 475.7 1217.6 471.5 1216.6"/>
<path class="yd" d="M801 996C801.5 998.9 804.1 1007.3 803.7 1013.4C803.4 1019.5 801.5 1027.1 798.9 1032.4C796.2 1037.7 792 1041.7 787.8 1045C783.6 1048.3 778.6 1050.6 773.6 1052.2C768.6 1053.8 762 1054.4 757.8 1054.5C753.6 1054.6 750 1053.2 748.5 1053"/>
<path class="yd" d="M733 1053C732.1 1054.8 729.9 1058.2 727.7 1064C725.5 1069.8 721.9 1079.9 719.8 1087.8C717.7 1095.7 716.2 1103.6 715.1 1111.5C714 1119.4 713.1 1126.1 713 1135.3C712.9 1144.5 713.3 1157.6 714.5 1166.6C715.7 1175.5 719.3 1185.3 720.3 1189"/>
</g>
<g id="fix">
<circle class="y" cx="473.2" cy="569.2" r="3.6"/><path class="y" d="M476.8 569.2L481.4 569.2"/><path class="y" d="M469.6 569.2L465 569.2"/><path class="y" d="M473.2 572.8L473.2 577.4"/><path class="y" d="M473.2 565.6L473.2 561"/>
<g transform="translate(478 579.5) rotate(0)"><text class="ty" x="0" y="0" font-size="7.2" font-weight="bold">H</text></g>
<circle class="y" cx="505.4" cy="735.1" r="3.6"/><path class="y" d="M509 735.1L513.6 735.1"/><path class="y" d="M501.8 735.1L497.2 735.1"/><path class="y" d="M505.4 738.7L505.4 743.3"/><path class="y" d="M505.4 731.5L505.4 726.9"/>
<g transform="translate(510 745) rotate(0)"><text class="ty" x="0" y="0" font-size="7.2" font-weight="bold">H</text></g>
<circle class="y" cx="542.9" cy="766" r="3.6"/><path class="y" d="M546.5 766L551.1 766"/><path class="y" d="M539.3 766L534.7 766"/><path class="y" d="M542.9 769.6L542.9 774.2"/><path class="y" d="M542.9 762.4L542.9 757.8"/>
<g transform="translate(548 776) rotate(0)"><text class="ty" x="0" y="0" font-size="7.2" font-weight="bold">H</text></g>
<circle class="y" cx="599" cy="951.8" r="3.6"/><path class="y" d="M602.6 951.8L607.2 951.8"/><path class="y" d="M595.4 951.8L590.8 951.8"/><path class="y" d="M599 955.4L599 960"/><path class="y" d="M599 948.2L599 943.6"/>
<circle class="y" cx="912" cy="852.6" r="3.6"/><path class="y" d="M915.6 852.6L920.2 852.6"/><path class="y" d="M908.4 852.6L903.8 852.6"/><path class="y" d="M912 856.2L912 860.8"/><path class="y" d="M912 849L912 844.4"/>
<circle class="y" cx="1002.3" cy="989.7" r="3.6"/><path class="y" d="M1005.9 989.7L1010.5 989.7"/><path class="y" d="M998.7 989.7L994.1 989.7"/><path class="y" d="M1002.3 993.3L1002.3 997.9"/><path class="y" d="M1002.3 986.1L1002.3 981.5"/>
<circle class="y" cx="1233.6" cy="740.1" r="3.6"/><path class="y" d="M1237.2 740.1L1241.8 740.1"/><path class="y" d="M1230 740.1L1225.4 740.1"/><path class="y" d="M1233.6 743.7L1233.6 748.3"/><path class="y" d="M1233.6 736.5L1233.6 731.9"/>
<circle class="y" cx="1233.6" cy="936.8" r="3.6"/><path class="y" d="M1237.2 936.8L1241.8 936.8"/><path class="y" d="M1230 936.8L1225.4 936.8"/><path class="y" d="M1233.6 940.4L1233.6 945"/><path class="y" d="M1233.6 933.2L1233.6 928.6"/>
<circle class="y" cx="740.4" cy="1051.7" r="3.6"/><path class="y" d="M744 1051.7L748.6 1051.7"/><path class="y" d="M736.8 1051.7L732.2 1051.7"/><path class="y" d="M740.4 1055.3L740.4 1059.9"/><path class="y" d="M740.4 1048.1L740.4 1043.5"/>
<circle class="y" cx="721.5" cy="1197.3" r="3.6"/><path class="y" d="M725.1 1197.3L729.7 1197.3"/><path class="y" d="M717.9 1197.3L713.3 1197.3"/><path class="y" d="M721.5 1200.9L721.5 1205.5"/><path class="y" d="M721.5 1193.7L721.5 1189.1"/>
<circle class="y" cx="400.2" cy="843" r="3.6"/><path class="y" d="M403.8 843L408.4 843"/><path class="y" d="M396.6 843L392 843"/><path class="y" d="M400.2 846.6L400.2 851.2"/><path class="y" d="M400.2 839.4L400.2 834.8"/>
<g transform="translate(410 838.5) rotate(0)"><text class="ty" x="0" y="0" font-size="7.8" font-weight="bold">UC</text></g>
<circle class="y" cx="458.2" cy="878.3" r="3.6"/><path class="y" d="M461.8 878.3L466.4 878.3"/><path class="y" d="M454.6 878.3L450 878.3"/><path class="y" d="M458.2 881.9L458.2 886.5"/><path class="y" d="M458.2 874.7L458.2 870.1"/>
<circle class="y" cx="593.4" cy="586.6" r="3.6"/><path class="y" d="M593.4 590.2L593.4 592.4"/><path class="y" d="M590.4 592.4L596.4 592.4"/>
<circle class="y" cx="824.2" cy="586.8" r="3.6"/><path class="y" d="M824.2 590.4L824.2 592.6"/><path class="y" d="M821.2 592.6L827.2 592.6"/>
<circle class="y" cx="1100.4" cy="587" r="3.6"/><path class="y" d="M1100.4 590.6L1100.4 592.8"/><path class="y" d="M1097.4 592.8L1103.4 592.8"/>
<circle class="y" cx="1305.3" cy="587" r="3.6"/><path class="y" d="M1305.3 590.6L1305.3 592.8"/><path class="y" d="M1302.3 592.8L1308.3 592.8"/>
<circle class="y" cx="448.6" cy="694.4" r="4.5"/><text class="ty" x="448.6" y="696.9" font-size="7" font-weight="bold" text-anchor="middle">R</text>
<circle class="y" cx="543.3" cy="694.4" r="4.5"/><text class="ty" x="543.3" y="696.9" font-size="7" font-weight="bold" text-anchor="middle">R</text>
<circle class="y" cx="632.3" cy="640.9" r="4.5"/><text class="ty" x="632.3" y="643.4" font-size="7" font-weight="bold" text-anchor="middle">R</text>
<circle class="y" cx="812.8" cy="640.9" r="4.5"/><text class="ty" x="812.8" y="643.4" font-size="7" font-weight="bold" text-anchor="middle">R</text>
<circle class="y" cx="632.6" cy="759.3" r="4.5"/><text class="ty" x="632.6" y="761.8" font-size="7" font-weight="bold" text-anchor="middle">R</text>
<circle class="y" cx="812.6" cy="759.5" r="4.5"/><text class="ty" x="812.6" y="762" font-size="7" font-weight="bold" text-anchor="middle">R</text>
<circle class="y" cx="632.2" cy="879" r="4.5"/><text class="ty" x="632.2" y="881.5" font-size="7" font-weight="bold" text-anchor="middle">R</text>
<circle class="y" cx="812.6" cy="879" r="4.5"/><text class="ty" x="812.6" y="881.5" font-size="7" font-weight="bold" text-anchor="middle">R</text>
<circle class="y" cx="448.5" cy="822.5" r="4.5"/><text class="ty" x="448.5" y="825" font-size="7" font-weight="bold" text-anchor="middle">R</text>
<circle class="y" cx="543.4" cy="822.5" r="4.5"/><text class="ty" x="543.4" y="825" font-size="7" font-weight="bold" text-anchor="middle">R</text>
<circle class="y" cx="414.3" cy="794.2" r="4.5"/><text class="ty" x="414.3" y="796.7" font-size="7" font-weight="bold" text-anchor="middle">R</text>
<circle class="y" cx="467" cy="1021.9" r="4.5"/><text class="ty" x="467" y="1024.4" font-size="7" font-weight="bold" text-anchor="middle">R</text>
<circle class="y" cx="467" cy="1118.4" r="4.5"/><text class="ty" x="467" y="1120.9" font-size="7" font-weight="bold" text-anchor="middle">R</text>
<circle class="y" cx="467" cy="1214.9" r="4.5"/><text class="ty" x="467" y="1217.4" font-size="7" font-weight="bold" text-anchor="middle">R</text>
<circle class="y" cx="578.5" cy="1021.9" r="4.5"/><text class="ty" x="578.5" y="1024.4" font-size="7" font-weight="bold" text-anchor="middle">R</text>
<circle class="y" cx="578.5" cy="1118.4" r="4.5"/><text class="ty" x="578.5" y="1120.9" font-size="7" font-weight="bold" text-anchor="middle">R</text>
<circle class="y" cx="578.5" cy="1214.9" r="4.5"/><text class="ty" x="578.5" y="1217.4" font-size="7" font-weight="bold" text-anchor="middle">R</text>
<circle class="y" cx="473.2" cy="499.3" r="3.7"/><path class="y" d="M474.5 495.6L474.5 507.6"/><path class="y" d="M471.9 495.6L471.9 507.6"/>
<circle class="y" cx="396.9" cy="597.4" r="3.7"/><path class="y" d="M393.2 596.1L405.2 596.1"/><path class="y" d="M393.2 598.7L405.2 598.7"/>
<circle class="y" cx="572.7" cy="621.6" r="3.7"/><path class="y" d="M569 620.3L581 620.3"/><path class="y" d="M569 622.9L581 622.9"/>
<circle class="y" cx="838.1" cy="605.3" r="3.7"/><path class="y" d="M839.4 601.6L839.4 613.6"/><path class="y" d="M836.8 601.6L836.8 613.6"/>
<circle class="y" cx="838.1" cy="588.7" r="3.7"/><path class="y" d="M836.8 592.4L836.8 580.4"/><path class="y" d="M839.4 592.4L839.4 580.4"/>
<circle class="y" cx="1005" cy="605.3" r="3.7"/><path class="y" d="M1006.3 601.6L1006.3 613.6"/><path class="y" d="M1003.7 601.6L1003.7 613.6"/>
<circle class="y" cx="888.3" cy="690.7" r="3.7"/><path class="y" d="M884.6 689.4L896.6 689.4"/><path class="y" d="M884.6 692L896.6 692"/>
<circle class="y" cx="873.3" cy="722.6" r="3.7"/><path class="y" d="M877 723.9L865 723.9"/><path class="y" d="M877 721.3L865 721.3"/>
<circle class="y" cx="1110.7" cy="690.7" r="3.7"/><path class="y" d="M1114.4 692L1102.4 692"/><path class="y" d="M1114.4 689.4L1102.4 689.4"/>
<circle class="y" cx="1316.1" cy="588.7" r="3.7"/><path class="y" d="M1314.8 592.4L1314.8 580.4"/><path class="y" d="M1317.4 592.4L1317.4 580.4"/>
<circle class="y" cx="497.3" cy="792.8" r="3.7"/><path class="y" d="M498.6 789.1L498.6 801.1"/><path class="y" d="M496 789.1L496 801.1"/>
<circle class="y" cx="469.7" cy="894.8" r="3.7"/><path class="y" d="M471 891.1L471 903.1"/><path class="y" d="M468.4 891.1L468.4 903.1"/>
<circle class="y" cx="572.7" cy="885" r="3.7"/><path class="y" d="M569 883.7L581 883.7"/><path class="y" d="M569 886.3L581 886.3"/>
<circle class="y" cx="748.6" cy="912.5" r="3.7"/><path class="y" d="M747.3 916.2L747.3 904.2"/><path class="y" d="M749.9 916.2L749.9 904.2"/>
<circle class="y" cx="888.3" cy="826" r="3.7"/><path class="y" d="M884.6 824.7L896.6 824.7"/><path class="y" d="M884.6 827.3L896.6 827.3"/>
<circle class="y" cx="1015.7" cy="777" r="3.7"/><path class="y" d="M1014.4 780.7L1014.4 768.7"/><path class="y" d="M1017 780.7L1017 768.7"/>
<circle class="y" cx="1015.7" cy="928" r="3.7"/><path class="y" d="M1017 924.3L1017 936.3"/><path class="y" d="M1014.4 924.3L1014.4 936.3"/>
<circle class="y" cx="1015.5" cy="928" r="3.7"/><path class="y" d="M1016.8 924.3L1016.8 936.3"/><path class="y" d="M1014.2 924.3L1014.2 936.3"/>
<circle class="y" cx="396.9" cy="1117.2" r="3.7"/><path class="y" d="M393.2 1115.9L405.2 1115.9"/><path class="y" d="M393.2 1118.5L405.2 1118.5"/>
<circle class="y" cx="525.4" cy="989" r="3.7"/><path class="y" d="M526.7 985.3L526.7 997.3"/><path class="y" d="M524.1 985.3L524.1 997.3"/>
<circle class="y" cx="649.3" cy="1107" r="3.7"/><path class="y" d="M653 1108.3L641 1108.3"/><path class="y" d="M653 1105.7L641 1105.7"/>
<circle class="y" cx="724.6" cy="988.9" r="3.7"/><path class="y" d="M725.9 985.2L725.9 997.2"/><path class="y" d="M723.3 985.2L723.3 997.2"/>
<circle class="y" cx="1134" cy="844" r="3.7"/><path class="y" d="M1130.3 842.7L1142.3 842.7"/><path class="y" d="M1130.3 845.3L1142.3 845.3"/>
<circle class="y" cx="556.8" cy="611" r="3.7"/><path class="y" d="M560.5 612.3L548.5 612.3"/><path class="y" d="M560.5 609.7L548.5 609.7"/>
<circle class="y" cx="399.1" cy="855" r="3.7"/><path class="y" d="M395.4 853.7L407.4 853.7"/><path class="y" d="M395.4 856.3L407.4 856.3"/>
<circle class="y" cx="472.9" cy="881.2" r="3.7"/><path class="y" d="M471.6 884.9L471.6 872.9"/><path class="y" d="M474.2 884.9L474.2 872.9"/>
<circle class="y" cx="535.3" cy="881.2" r="3.7"/><path class="y" d="M534 884.9L534 872.9"/><path class="y" d="M536.6 884.9L536.6 872.9"/>
<circle class="y" cx="473" cy="1245" r="3.7"/><path class="y" d="M471.7 1248.7L471.7 1236.7"/><path class="y" d="M474.3 1248.7L474.3 1236.7"/>
<circle class="y" cx="1015" cy="791.5" r="3.7"/><path class="y" d="M1016.3 787.8L1016.3 799.8"/><path class="y" d="M1013.7 787.8L1013.7 799.8"/>
<path class="y" d="M887.7 698.8L895.1 701.8L887.7 704.8Z"/><path class="y" d="M887.7 698.8L883.4 701.8L887.7 704.8"/>
<path class="y" d="M874.8 736.6L867.4 733.6L874.8 730.6Z"/><path class="y" d="M874.8 736.6L879.1 733.6L874.8 730.6"/>
<path class="y" d="M652.3 1094.8L644.9 1091.8L652.3 1088.8Z"/><path class="y" d="M652.3 1094.8L656.6 1091.8L652.3 1088.8"/>
<path class="y" d="M740.6 905.5L737.2 914L733.8 905.5Z"/><path class="y" d="M740.6 905.5L737.2 900.5L733.8 905.5"/>
<path class="y" d="M498 876.7L494.6 885.2L491.2 876.7Z"/>
<rect x="619.2" y="906.7" width="8.7" height="8.7" fill="#ff0"/><text class="ty" x="617.7" y="914.2" font-size="8.4" font-weight="bold" text-anchor="end" textLength="9.5" lengthAdjust="spacingAndGlyphs">SD</text>
<rect x="917.6" y="731.9" width="8.7" height="8.7" fill="#ff0"/><text class="ty" x="916.1" y="739.4" font-size="8.4" font-weight="bold" text-anchor="end" textLength="9.5" lengthAdjust="spacingAndGlyphs">SD</text>
<rect x="914.4" y="815.2" width="8.7" height="8.7" fill="#ff0"/><text class="ty" x="912.9" y="822.7" font-size="8.4" font-weight="bold" text-anchor="end" textLength="9.5" lengthAdjust="spacingAndGlyphs">SD</text>
<rect x="914.4" y="828.2" width="8.7" height="8.7" fill="#ff0"/><text class="ty" x="912.9" y="835.7" font-size="8.4" font-weight="bold" text-anchor="end" textLength="9.5" lengthAdjust="spacingAndGlyphs">CO</text>
<g transform="translate(844 587) rotate(0)"><text class="ty" x="0" y="0" font-size="8.5" textLength="23" lengthAdjust="spacingAndGlyphs" font-weight="bold">GFI WP</text></g>
<g transform="translate(1304.5 577.6) rotate(0)"><text class="ty" x="0" y="0" font-size="8.5" textLength="23" lengthAdjust="spacingAndGlyphs" font-weight="bold">GFI WP</text></g>
<g transform="translate(463.1 870.7) rotate(0)"><text class="ty" x="0" y="0" font-size="8.5" textLength="24" lengthAdjust="spacingAndGlyphs" font-weight="bold">UC GFI</text></g>
<g transform="translate(409.5 857.5) rotate(0)"><text class="ty" x="0" y="0" font-size="7.8" textLength="9" lengthAdjust="spacingAndGlyphs" font-weight="bold">GFI</text></g>
<g transform="translate(1021 799.5) rotate(0)"><text class="ty" x="0" y="0" font-size="7.8" textLength="9" lengthAdjust="spacingAndGlyphs" font-weight="bold">GFI</text></g>
<path class="y" d="M446.7 935.2L506.9 935.2"/>
<path class="y" d="M446.7 932.2L446.7 938.2"/>
<path class="y" d="M506.9 932.2L506.9 938.2"/>
<g transform="translate(437 946) rotate(0)"><text class="ty" x="0" y="0" font-size="8.5" textLength="10.5" lengthAdjust="spacingAndGlyphs" font-weight="bold">2/4</text></g>
<path class="y" d="M1075.7 837L1075.7 867.5"/>
<path class="y" d="M1072.7 837L1078.7 837"/>
<path class="y" d="M1072.7 867.5L1078.7 867.5"/>
<g transform="translate(1064 877.6) rotate(0)"><text class="ty" x="0" y="0" font-size="8.5" textLength="9" lengthAdjust="spacingAndGlyphs" font-weight="bold">2/2</text></g>
<path class="wd2" d="M729.4 758.4L749.9 756L749.9 763.2L729.4 760.8Z"/><path class="wd2" d="M724.1 766.1L726.5 786.6L719.3 786.6L721.7 766.1Z"/><path class="wd2" d="M716.4 760.8L695.9 763.2L695.9 756L716.4 758.4Z"/><path class="wd2" d="M721.7 753.1L719.3 732.6L726.5 732.6L724.1 753.1Z"/><circle class="y" cx="722.9" cy="759.6" r="4"/>
<path class="wd2" d="M1011.5 689.5L1032 687.1L1032 694.3L1011.5 691.9Z"/><path class="wd2" d="M1006.2 697.2L1008.6 717.7L1001.4 717.7L1003.8 697.2Z"/><path class="wd2" d="M998.5 691.9L978 694.3L978 687.1L998.5 689.5Z"/><path class="wd2" d="M1003.8 684.2L1001.4 663.7L1008.6 663.7L1006.2 684.2Z"/><circle class="y" cx="1005" cy="690.7" r="4"/>
<text class="ty" x="751.5" y="797.6" font-size="7.6" textLength="102.8" lengthAdjust="spacingAndGlyphs" text-anchor="middle" font-weight="bold">CEILING MOUNTED LIGHT FIXTURE</text>
<text class="ty" x="751.5" y="805.9" font-size="7.6" textLength="85.4" lengthAdjust="spacingAndGlyphs" text-anchor="middle" font-weight="bold">STANDARD - PREWIRE FOR</text>
<text class="ty" x="751.5" y="814.1" font-size="7.6" textLength="72" lengthAdjust="spacingAndGlyphs" text-anchor="middle" font-weight="bold" font-style="italic">OPTIONAL CEILING FAN</text>
<text class="ty" x="1054" y="731.3" font-size="7.6" textLength="102.8" lengthAdjust="spacingAndGlyphs" text-anchor="middle" font-weight="bold">CEILING MOUNTED LIGHT FIXTURE</text>
<text class="ty" x="1054" y="739.6" font-size="7.6" textLength="85.4" lengthAdjust="spacingAndGlyphs" text-anchor="middle" font-weight="bold">STANDARD - PREWIRE FOR</text>
<text class="ty" x="1054" y="747.8" font-size="7.6" textLength="72" lengthAdjust="spacingAndGlyphs" text-anchor="middle" font-weight="bold" font-style="italic">OPTIONAL CEILING FAN</text>
<circle class="y" cx="988.7" cy="851.1" r="4.2"/>
<g transform="translate(986.3 853.8) rotate(0)"><text class="ty" x="0" y="0" font-size="9.1" font-weight="bold">S</text></g>
<rect class="y" x="976.4" y="892.8" width="12.3" height="11.7"/>
<g transform="translate(555.5 594) rotate(-90)"><text class="ty" font-size="9" text-anchor="middle" x="0" y="3.2">$</text></g>
<g transform="translate(555.5 602.5) rotate(-90)"><text class="ty" font-size="9" text-anchor="middle" x="0" y="3.2">$</text></g>
<g transform="translate(555.5 619) rotate(-90)"><text class="ty" font-size="9" text-anchor="middle" x="0" y="3.2">$</text><text class="ty" font-size="5.9" font-weight="bold" x="1.1" y="7.4">3</text></g>
<g transform="translate(555.5 626) rotate(-90)"><text class="ty" font-size="9" text-anchor="middle" x="0" y="3.2">$</text><text class="ty" font-size="5.9" font-weight="bold" x="1.1" y="7.4">3</text></g>
<g transform="translate(808.5 606) rotate(0)"><text class="ty" font-size="11.5" text-anchor="middle" x="0" y="4.1">$</text><text class="ty" font-size="7.6" font-weight="bold" x="1.4" y="9.4">3</text></g>
<g transform="translate(817 606) rotate(0)"><text class="ty" font-size="11.5" text-anchor="middle" x="0" y="4.1">$</text><text class="ty" font-size="7.6" font-weight="bold" x="1.4" y="9.4">3</text></g>
<g transform="translate(577 862.3) rotate(-90)"><text class="ty" font-size="9" text-anchor="middle" x="0" y="3.2">$</text><text class="ty" font-size="5.9" font-weight="bold" x="1.1" y="7.4">4</text></g>
<g transform="translate(577 870.7) rotate(-90)"><text class="ty" font-size="9" text-anchor="middle" x="0" y="3.2">$</text><text class="ty" font-size="5.9" font-weight="bold" x="1.1" y="7.4">4</text></g>
<g transform="translate(576.5 900) rotate(-90)"><text class="ty" font-size="9" text-anchor="middle" x="0" y="3.2">$</text></g>
<g transform="translate(577 904.7) rotate(-90)"><text class="ty" font-size="9" text-anchor="middle" x="0" y="3.2">$</text><text class="ty" font-size="5.9" font-weight="bold" x="1.1" y="7.4">4</text></g>
<g transform="translate(576.5 909.6) rotate(-90)"><text class="ty" font-size="9" text-anchor="middle" x="0" y="3.2">$</text></g>
<g transform="translate(577 914.6) rotate(-90)"><text class="ty" font-size="9" text-anchor="middle" x="0" y="3.2">$</text><text class="ty" font-size="5.9" font-weight="bold" x="1.1" y="7.4">3</text></g>
<g transform="translate(555 921.7) rotate(-60)"><text class="ty" font-size="9" text-anchor="middle" x="0" y="3.2">$</text></g>
<g transform="translate(1291.5 608.5) rotate(0)"><text class="ty" font-size="11.5" text-anchor="middle" x="0" y="4.1">$</text><text class="ty" font-size="7.6" font-weight="bold" x="1.4" y="9.4">3</text></g>
<g transform="translate(1299.3 608.5) rotate(0)"><text class="ty" font-size="11.5" text-anchor="middle" x="0" y="4.1">$</text><text class="ty" font-size="7.6" font-weight="bold" x="1.4" y="9.4">3</text></g>
<g transform="translate(938.8 775.5) rotate(0)"><text class="ty" font-size="11.5" text-anchor="middle" x="0" y="4.1">$</text></g>
<g transform="translate(992 791.5) rotate(0)"><text class="ty" font-size="11.5" text-anchor="middle" x="0" y="4.1">$</text><text class="ty" font-size="7.6" font-weight="bold" x="1.4" y="9.4">3</text></g>
<g transform="translate(998.8 791.5) rotate(0)"><text class="ty" font-size="11.5" text-anchor="middle" x="0" y="4.1">$</text></g>
<g transform="translate(1005.5 791.5) rotate(0)"><text class="ty" font-size="11.5" text-anchor="middle" x="0" y="4.1">$</text></g>
<g transform="translate(1087.4 791.7) rotate(0)"><text class="ty" font-size="11.5" text-anchor="middle" x="0" y="4.1">$</text></g>
<g transform="translate(947.5 931) rotate(0)"><text class="ty" font-size="11.5" text-anchor="middle" x="0" y="4.1">$</text><text class="ty" font-size="7.6" font-weight="bold" x="1.4" y="9.4">3</text></g>
<g transform="translate(563.8 990) rotate(0)"><text class="ty" font-size="11.5" text-anchor="middle" x="0" y="4.1">$</text></g>
<g transform="translate(799.7 990) rotate(0)"><text class="ty" font-size="11.5" text-anchor="middle" x="0" y="4.1">$</text></g>
<g transform="translate(871.7 854.5) rotate(-90)"><text class="ty" font-size="9" text-anchor="middle" x="0" y="3.2">$</text><text class="ty" font-size="5.9" font-weight="bold" x="1.1" y="7.4">3</text></g>
<g transform="translate(889.9 851.5) rotate(-90)"><text class="ty" font-size="9" text-anchor="middle" x="0" y="3.2">$</text></g>
<g transform="translate(1111.5 996) rotate(105)"><text class="ty" font-size="9" text-anchor="middle" x="0" y="3.2">$</text></g>
<g transform="translate(1139 996) rotate(-90)"><text class="ty" font-size="9" text-anchor="middle" x="0" y="3.2">$</text></g>
<g transform="translate(962 815) rotate(-100)"><text class="ty" font-size="9" text-anchor="middle" x="0" y="3.2">$</text></g>
<path class="y" d="M726.5 945.5L733.5 945.5L731 938Z"/>
<g transform="translate(731.5 944) rotate(0)"><text class="ty" x="0" y="0" font-size="7.8" font-weight="bold">3</text></g>
<g transform="translate(945.8 775.3) rotate(0)"><text class="tw" font-size="11.5" text-anchor="middle" x="0" y="4.1">$</text></g>
<g transform="translate(574 894) rotate(-90)"><text class="tw" font-size="9" text-anchor="middle" x="0" y="3.2">$</text></g>
</g>
<g id="kit">
<rect class="y" x="475" y="728" width="77.1" height="61.4"/>
<path class="yd" d="M475 743.7L536.3 743.7L536.3 789.4"/>
<path class="yt" d="M394.2 818L394.2 885.3L560.8 885.3"/>
<path class="yt" d="M396.6 818L396.6 882.9L560.8 882.9"/>
<path class="yt" d="M398.9 818L398.9 880.6L560.8 880.6"/>
<path class="yt" d="M401.2 818L401.2 878.2L560.8 878.2"/>
<path class="yt" d="M403.6 818L403.6 875.9L560.8 875.9"/>
<path class="yt" d="M405.9 818L405.9 873.5L560.8 873.5"/>
<path class="yt" d="M408.3 818L408.3 871.2L560.8 871.2"/>
<path class="yt" d="M394.2 818L408.5 818"/>
<path class="y" d="M423.5 728L423.5 856L506.5 856L506.5 871.2"/>
<path class="yt" d="M508.7 856L508.7 871.2"/>
<path class="y" d="M510.3 871.2V851.5Q510.3 849.5 512.3 849.5H555Q557 849.5 557 851.5V871.2"/>
<path class="yt" d="M512.3 871.2V852.5Q512.3 851.5 513.3 851.5H554Q555 851.5 555 852.5V871.2"/>
<path class="yt" d="M393.4 728V772.5M395.5 728V772.5M397.7 728V772.5M399.8 728V772.5M402 728V772.5M404.1 728V772.5M406.3 728V772.5M408.4 728V772.5"/>
<rect class="y" x="393.4" y="728" width="30.1" height="44.5"/>
<rect class="yt" x="408.6" y="728" width="12.9" height="13"/>
<rect class="yt" x="408.6" y="741" width="14.9" height="31.5"/>
<g transform="translate(410 762) rotate(0)"><text class="ty" x="0" y="0" font-size="7.8" font-weight="bold">UC</text></g>
<g transform="translate(410 770) rotate(0)"><text class="ty" x="0" y="0" font-size="7.8" textLength="9" lengthAdjust="spacingAndGlyphs" font-weight="bold">GFI</text></g>
<path class="yt" d="M411 747L420 758M420 747L414 756"/>
<rect class="w" x="395.3" y="776.3" width="28.2" height="40.1"/>
<rect class="c" x="398.4" y="778.5" width="22.8" height="17.1" rx="3"/>
<rect class="c" x="398.4" y="797.4" width="22.8" height="17.2" rx="3"/>
<circle class="yt" cx="409" cy="786" r="1.2"/>
<circle class="c" cx="410" cy="805" r="1"/>
</g>
<g id="seats">
<path class="c" d="M413.7 1051.3L413.7 1043.7L451.1 1043.7L451.1 1196L413.7 1196L413.7 1188.2"/><path class="c" d="M451.1 1051.3H409.4Q405.9 1051.3 405.9 1054.8V1075.9Q405.9 1079.4 409.4 1079.4H451.1"/><path class="c" d="M423.9 1051.3L423.9 1079.4"/><path class="c" d="M437.8 1051.3L437.8 1079.4"/><path class="c" d="M413.7 1079.4L413.7 1086.8"/><path class="c" d="M451.1 1086.8H409.4Q405.9 1086.8 405.9 1090.3V1111.4Q405.9 1114.9 409.4 1114.9H451.1"/><path class="c" d="M423.9 1086.8L423.9 1114.9"/><path class="c" d="M437.8 1086.8L437.8 1114.9"/><path class="c" d="M413.7 1114.9L413.7 1122.4"/><path class="c" d="M451.1 1122.4H409.4Q405.9 1122.4 405.9 1125.9V1147Q405.9 1150.5 409.4 1150.5H451.1"/><path class="c" d="M423.9 1122.4L423.9 1150.5"/><path class="c" d="M437.8 1122.4L437.8 1150.5"/><path class="c" d="M413.7 1150.5L413.7 1157.9"/><path class="c" d="M451.1 1158H409.4Q405.9 1158 405.9 1161.5V1184.7Q405.9 1188.2 409.4 1188.2H451.1"/><path class="c" d="M423.9 1158L423.9 1188.2"/><path class="c" d="M437.8 1158L437.8 1188.2"/>
<path class="c" d="M503.5 1067.7L503.5 1060.1L541.8 1060.1L541.8 1176.9L503.5 1176.9L503.5 1169.1"/><path class="c" d="M541.8 1067.7H499.8Q496.3 1067.7 496.3 1071.2V1092.3Q496.3 1095.8 499.8 1095.8H541.8"/><path class="c" d="M514.3 1067.7L514.3 1095.8"/><path class="c" d="M528.2 1067.7L528.2 1095.8"/><path class="c" d="M503.5 1095.8L503.5 1103.3"/><path class="c" d="M541.8 1103.3H499.8Q496.3 1103.3 496.3 1106.8V1127.9Q496.3 1131.4 499.8 1131.4H541.8"/><path class="c" d="M514.3 1103.3L514.3 1131.4"/><path class="c" d="M528.2 1103.3L528.2 1131.4"/><path class="c" d="M503.5 1131.4L503.5 1138.9"/><path class="c" d="M541.8 1138.9H499.8Q496.3 1138.9 496.3 1142.4V1165.6Q496.3 1169.1 499.8 1169.1H541.8"/><path class="c" d="M514.3 1138.9L514.3 1169.1"/><path class="c" d="M528.2 1138.9L528.2 1169.1"/>
</g>
<g id="legend">
<rect class="y" x="1387.9" y="55.7" width="564.5" height="462.6"/>
<path class="y" d="M1387.9 85.9L1952.4 85.9"/>
<text class="tw" x="1534.7" y="80.6" font-size="25.1" textLength="247.8" lengthAdjust="spacingAndGlyphs">ELECTRICAL SYMBOLS</text>
<text class="tw" x="1440.8" y="108.9" font-size="14.7" textLength="203.7" lengthAdjust="spacingAndGlyphs">CEILING MOUNTED LIGHT FIXTURE</text>
<text class="tw" x="1440.8" y="134.6" font-size="14.7" textLength="147.1" lengthAdjust="spacingAndGlyphs">DIRECTIONAL EYEBALL</text>
<text class="tw" x="1440.8" y="149" font-size="14.7" textLength="88.1" lengthAdjust="spacingAndGlyphs">LIGHT FIXTURE</text>
<text class="tw" x="1440.8" y="173.9" font-size="14.7" textLength="160.2" lengthAdjust="spacingAndGlyphs">RECESSED LIGHT FIXTURE</text>
<text class="tw" x="1440.8" y="198.5" font-size="14.7" textLength="189.1" lengthAdjust="spacingAndGlyphs">MINI RECESSED LIGHT FIXTURE</text>
<text class="tw" x="1440.8" y="223.7" font-size="14.7" textLength="187.8" lengthAdjust="spacingAndGlyphs">WALL MOUNTED LIGHT FIXTURE</text>
<text class="tw" x="1440.8" y="248.7" font-size="14.7" textLength="124.8" lengthAdjust="spacingAndGlyphs">FLUORESCENT LIGHT</text>
<text class="tw" x="1440.8" y="336.7" font-size="14.7" textLength="146.2" lengthAdjust="spacingAndGlyphs">HANGING LIGHT FIXTURE</text>
<text class="tw" x="1441.3" y="362.6" font-size="14.7" textLength="109.7" lengthAdjust="spacingAndGlyphs">TELEPHONE JACK</text>
<text class="tw" x="1440.8" y="387.9" font-size="14.7" textLength="81.6" lengthAdjust="spacingAndGlyphs">CABLE JACK</text>
<text class="tw" x="1440.8" y="412.5" font-size="14.7" textLength="149.7" lengthAdjust="spacingAndGlyphs">KEYLESS LIGHT FIXTURE</text>
<text class="tw" x="1449.5" y="443.7" font-size="14.7" textLength="106.7" lengthAdjust="spacingAndGlyphs">CEILING FAN WITH</text>
<text class="tw" x="1449.5" y="457.4" font-size="14.7" textLength="87.8" lengthAdjust="spacingAndGlyphs">LIGHT FIXTURE</text>
<text class="tw" x="1440.8" y="501.4" font-size="14.7" textLength="139.2" lengthAdjust="spacingAndGlyphs">UNDER CABINET LIGHT</text>
<text class="tw" x="1738.7" y="107.3" font-size="14.7" textLength="83.1" lengthAdjust="spacingAndGlyphs">EXHAUST FAN</text>
<text class="tw" x="1738.7" y="132.2" font-size="14.7" textLength="161" lengthAdjust="spacingAndGlyphs">RECESSED SHOWER LIGHT</text>
<text class="tw" x="1738.7" y="157.9" font-size="14.7" textLength="150" lengthAdjust="spacingAndGlyphs">EXTERIOR FLOOD LIGHT</text>
<text class="tw" x="1738.7" y="182" font-size="14.7" textLength="114.6" lengthAdjust="spacingAndGlyphs">SMOKE DETECTOR</text>
<text class="tw" x="1738.7" y="203.5" font-size="14.7" textLength="196.7" lengthAdjust="spacingAndGlyphs">CARBON MONOXIDE DETECTOR</text>
<text class="tw" x="1738.7" y="225.3" font-size="14.7" textLength="87.8" lengthAdjust="spacingAndGlyphs">DOOR CHIMES</text>
<text class="tw" x="1738.7" y="244.7" font-size="14.7" textLength="122.3" lengthAdjust="spacingAndGlyphs">ELECTRICAL PANEL</text>
<text class="tw" x="1738.7" y="263.9" font-size="14.7" textLength="68.2" lengthAdjust="spacingAndGlyphs">METERBOX</text>
<text class="tw" x="1747.1" y="299.5" font-size="14.7" textLength="50.6" lengthAdjust="spacingAndGlyphs">A/C UNIT</text>
<text class="tw" x="1738.7" y="340.4" font-size="14.7" textLength="64.8" lengthAdjust="spacingAndGlyphs">110 OUTLET</text>
<text class="tw" x="1738.7" y="365.6" font-size="14.7" textLength="70.8" lengthAdjust="spacingAndGlyphs">220 OUTLET</text>
<text class="tw" x="1739.7" y="391" font-size="14.7" textLength="90.5" lengthAdjust="spacingAndGlyphs">SINGLE SWITCH</text>
<text class="tw" x="1739.7" y="416.4" font-size="14.7" textLength="86.8" lengthAdjust="spacingAndGlyphs">3-WAY SWITCH</text>
<text class="tw" x="1739.7" y="441.3" font-size="14.7" textLength="87.3" lengthAdjust="spacingAndGlyphs">4-WAY SWITCH</text>
<text class="tw" x="1738.7" y="467.6" font-size="14.7" textLength="110.1" lengthAdjust="spacingAndGlyphs">OUTDOOR OUTLET</text>
<text class="tw" x="1738.7" y="493" font-size="14.5" textLength="18.1" lengthAdjust="spacingAndGlyphs">GFI</text>
<text class="tw" x="1440.8" y="260.2" font-size="10" textLength="66.4" lengthAdjust="spacingAndGlyphs" font-weight="bold">1/2 -- 1 BULB @ 2'</text>
<text class="tw" x="1440.8" y="271.5" font-size="10" textLength="69.7" lengthAdjust="spacingAndGlyphs" font-weight="bold">2/2 -- 2 BULB @ 2'</text>
<text class="tw" x="1440.8" y="283" font-size="10" textLength="68.2" lengthAdjust="spacingAndGlyphs" font-weight="bold">1/4 -- 1 BULB @ 4'</text>
<text class="tw" x="1440.8" y="294.3" font-size="10" textLength="72.2" lengthAdjust="spacingAndGlyphs" font-weight="bold">2/4 -- 2 BULB @ 4'</text>
<text class="tw" x="1440.8" y="305.3" font-size="10" textLength="73.7" lengthAdjust="spacingAndGlyphs" font-weight="bold">4/4 -- 4 BULB @ 4'</text>
<circle class="y" cx="1407.3" cy="103.5" r="3.1"/><path class="y" d="M1410.4 103.5L1415.6 103.5"/><path class="y" d="M1404.2 103.5L1399 103.5"/><path class="y" d="M1407.3 106.6L1407.3 111.8"/><path class="y" d="M1407.3 100.4L1407.3 95.2"/>
<circle class="y" cx="1407.3" cy="136.5" r="3.1"/><path class="y" d="M1410.4 136.5L1415.6 136.5"/><path class="y" d="M1404.2 136.5L1399 136.5"/><path class="y" d="M1407.3 139.6L1407.3 144.8"/><path class="y" d="M1407.3 133.4L1407.3 128.2"/>
<path class="yt" d="M1410.7 134.4L1414.8 136.5L1410.7 138.6"/>
<circle class="y" cx="1407.3" cy="168.5" r="5.2"/><text class="ty" x="1407.3" y="171" font-size="7" font-weight="bold" text-anchor="middle">R</text>
<circle class="y" cx="1407.3" cy="195.5" r="5.2"/>
<text class="ty" x="1407.3" y="198.2" font-size="7" font-weight="bold" text-anchor="middle">M</text>
<path class="y" d="M1402.5 213.5L1402.5 222.2"/>
<circle class="y" cx="1409.8" cy="217.8" r="4.2"/>
<path class="y" d="M1402.5 217.8L1405.6 217.8"/>
<path class="y" d="M1398.4 242.7L1416.7 242.7"/>
<path class="y" d="M1398.4 239.6L1398.4 245.8"/>
<path class="y" d="M1416.7 239.6L1416.7 245.8"/>
<circle class="y" cx="1407" cy="327.6" r="3.1"/><path class="y" d="M1410.1 327.6L1415.3 327.6"/><path class="y" d="M1403.9 327.6L1398.7 327.6"/><path class="y" d="M1407 330.7L1407 335.9"/><path class="y" d="M1407 324.5L1407 319.3"/>
<g transform="translate(1412.8 339) rotate(0)"><text class="ty" x="0" y="0" font-size="7.8" font-weight="bold">H</text></g>
<path class="y" d="M1405.2 353.2L1414 357.6L1405.2 362Z"/>
<path class="y" d="M1401.5 382.8L1406.8 378.2L1414 382.8L1406.8 387.5Z"/>
<path class="y" d="M1406.8 378.2L1406.8 387.5"/>
<circle class="y" cx="1407" cy="405.5" r="3.1"/><path class="y" d="M1410.1 405.5L1415.3 405.5"/><path class="y" d="M1403.9 405.5L1398.7 405.5"/><path class="y" d="M1407 408.6L1407 413.8"/><path class="y" d="M1407 402.4L1407 397.2"/>
<g transform="translate(1412.8 414.7) rotate(0)"><text class="ty" x="0" y="0" font-size="7.8" textLength="14.4" lengthAdjust="spacingAndGlyphs" font-weight="bold">KEY</text></g>
<path class="y" d="M1419.2 449.1L1441.4 446.8L1441.4 453.4L1419.2 451.1Z"/>
<path class="y" d="M1417.2 453.1L1419.5 475.3L1412.9 475.3L1415.2 453.1Z"/>
<path class="y" d="M1413.2 451.1L1391 453.4L1391 446.8L1413.2 449.1Z"/>
<path class="y" d="M1415.2 447.1L1412.9 424.9L1419.5 424.9L1417.2 447.1Z"/>
<circle class="y" cx="1416.2" cy="450.1" r="3" style="fill:#25293c"/>
<circle class="y" cx="1407" cy="495.2" r="3.1"/><path class="y" d="M1410.1 495.2L1415.3 495.2"/><path class="y" d="M1403.9 495.2L1398.7 495.2"/><path class="y" d="M1407 498.3L1407 503.5"/><path class="y" d="M1407 492.1L1407 486.9"/>
<g transform="translate(1412.8 507.8) rotate(0)"><text class="ty" x="0" y="0" font-size="7.8" textLength="9" lengthAdjust="spacingAndGlyphs" font-weight="bold">UC</text></g>
<circle class="y" cx="1705.7" cy="102.9" r="5.2"/>
<text class="ty" x="1705.7" y="105.6" font-size="7.5" font-weight="bold" text-anchor="middle">S</text>
<rect class="y" x="1699.4" y="121.3" width="12.3" height="12.3"/>
<path class="y" d="M1700.5 148.3L1700.5 156.3"/>
<circle class="y" cx="1706.6" cy="152.3" r="3.6"/>
<path class="y" d="M1700.5 152.3L1703 152.3"/>
<path class="y" d="M1715 144.5L1706.6 152.3L1715 159.5"/>
<rect x="1699.9" y="172.4" width="9.2" height="9.2" fill="#ff0"/>
<g transform="translate(1710.9 181.6) rotate(0)"><text class="ty" x="0" y="0" font-size="8.5" textLength="10" lengthAdjust="spacingAndGlyphs" font-weight="bold">SD</text></g>
<rect x="1699.9" y="193.4" width="9.2" height="9.2" fill="#ff0"/>
<g transform="translate(1710.9 202.8) rotate(0)"><text class="ty" x="0" y="0" font-size="8.5" textLength="11" lengthAdjust="spacingAndGlyphs" font-weight="bold">CO</text></g>
<rect class="y" x="1696" y="214.9" width="17" height="8.6"/>
<path class="y" d="M1697.5 217.5H1711.5" style="stroke-dasharray:2 1.2;stroke-width:1.6"/>
<rect class="y" x="1694.1" y="235.3" width="21.5" height="5.3"/>
<rect class="y" x="1694.1" y="254.3" width="21.5" height="3.3"/>
<path class="y" d="M1697.3 257.6L1697.3 263.7L1712.5 263.7L1712.5 257.6"/>
<rect class="y" x="1689.4" y="271" width="45.9" height="46.2" rx="9"/>
<circle class="y" cx="1712.2" cy="294.1" r="16.3"/>
<path class="y" d="M1715.4 294.1L1728.5 294.1M1715.2 295.3L1727.3 300.3M1714.5 296.4L1723.7 305.6M1713.4 297.1L1718.4 309.2M1712.2 297.3L1712.2 310.4M1711 297.1L1706 309.2M1709.9 296.4L1700.7 305.6M1709.2 295.3L1697.1 300.3M1709 294.1L1695.9 294.1M1709.2 292.9L1697.1 287.9M1709.9 291.8L1700.7 282.6M1711 291.1L1706 279M1712.2 290.9L1712.2 277.8M1713.4 291.1L1718.4 279M1714.5 291.8L1723.7 282.6M1715.2 292.9L1727.3 287.9"/>
<circle class="y" cx="1712.2" cy="294.1" r="3.2"/>
<circle class="y" cx="1704.6" cy="336" r="3.6"/><path class="y" d="M1705.9 332.4L1705.9 344"/><path class="y" d="M1703.3 332.4L1703.3 344"/>
<circle class="y" cx="1704.6" cy="359.8" r="3.6"/><path class="y" d="M1703.3 363.4L1703.3 352.3"/><path class="y" d="M1705.9 363.4L1705.9 352.3"/>
<g transform="translate(1696 372.8) rotate(0)"><text class="ty" x="0" y="0" font-size="7.8" textLength="18" lengthAdjust="spacingAndGlyphs" font-weight="bold">220V</text></g>
<g transform="translate(1704.6 384.8) rotate(0)"><text class="ty" font-size="12" text-anchor="middle" x="0" y="4.3">$</text></g>
<g transform="translate(1703.6 410.2) rotate(0)"><text class="ty" font-size="12" text-anchor="middle" x="0" y="4.3">$</text><text class="ty" font-size="7.9" font-weight="bold" x="1.4" y="9.8">3</text></g>
<g transform="translate(1703.6 435.2) rotate(0)"><text class="ty" font-size="12" text-anchor="middle" x="0" y="4.3">$</text><text class="ty" font-size="7.9" font-weight="bold" x="1.4" y="9.8">4</text></g>
<circle class="y" cx="1704.6" cy="461.4" r="3.6"/><path class="y" d="M1703.3 465L1703.3 453.9"/><path class="y" d="M1705.9 465L1705.9 453.9"/>
<g transform="translate(1692 473.8) rotate(0)"><text class="ty" x="0" y="0" font-size="7.8" textLength="23.6" lengthAdjust="spacingAndGlyphs" font-weight="bold">GFI WP</text></g>
<circle class="y" cx="1704.6" cy="486.2" r="3.6"/><path class="y" d="M1703.3 489.8L1703.3 478.7"/><path class="y" d="M1705.9 489.8L1705.9 478.7"/>
<g transform="translate(1698.6 499.4) rotate(0)"><text class="ty" x="0" y="0" font-size="7.8" textLength="11.3" lengthAdjust="spacingAndGlyphs" font-weight="bold">GFI</text></g>
</g>
</g>
</svg>
</body></html>
